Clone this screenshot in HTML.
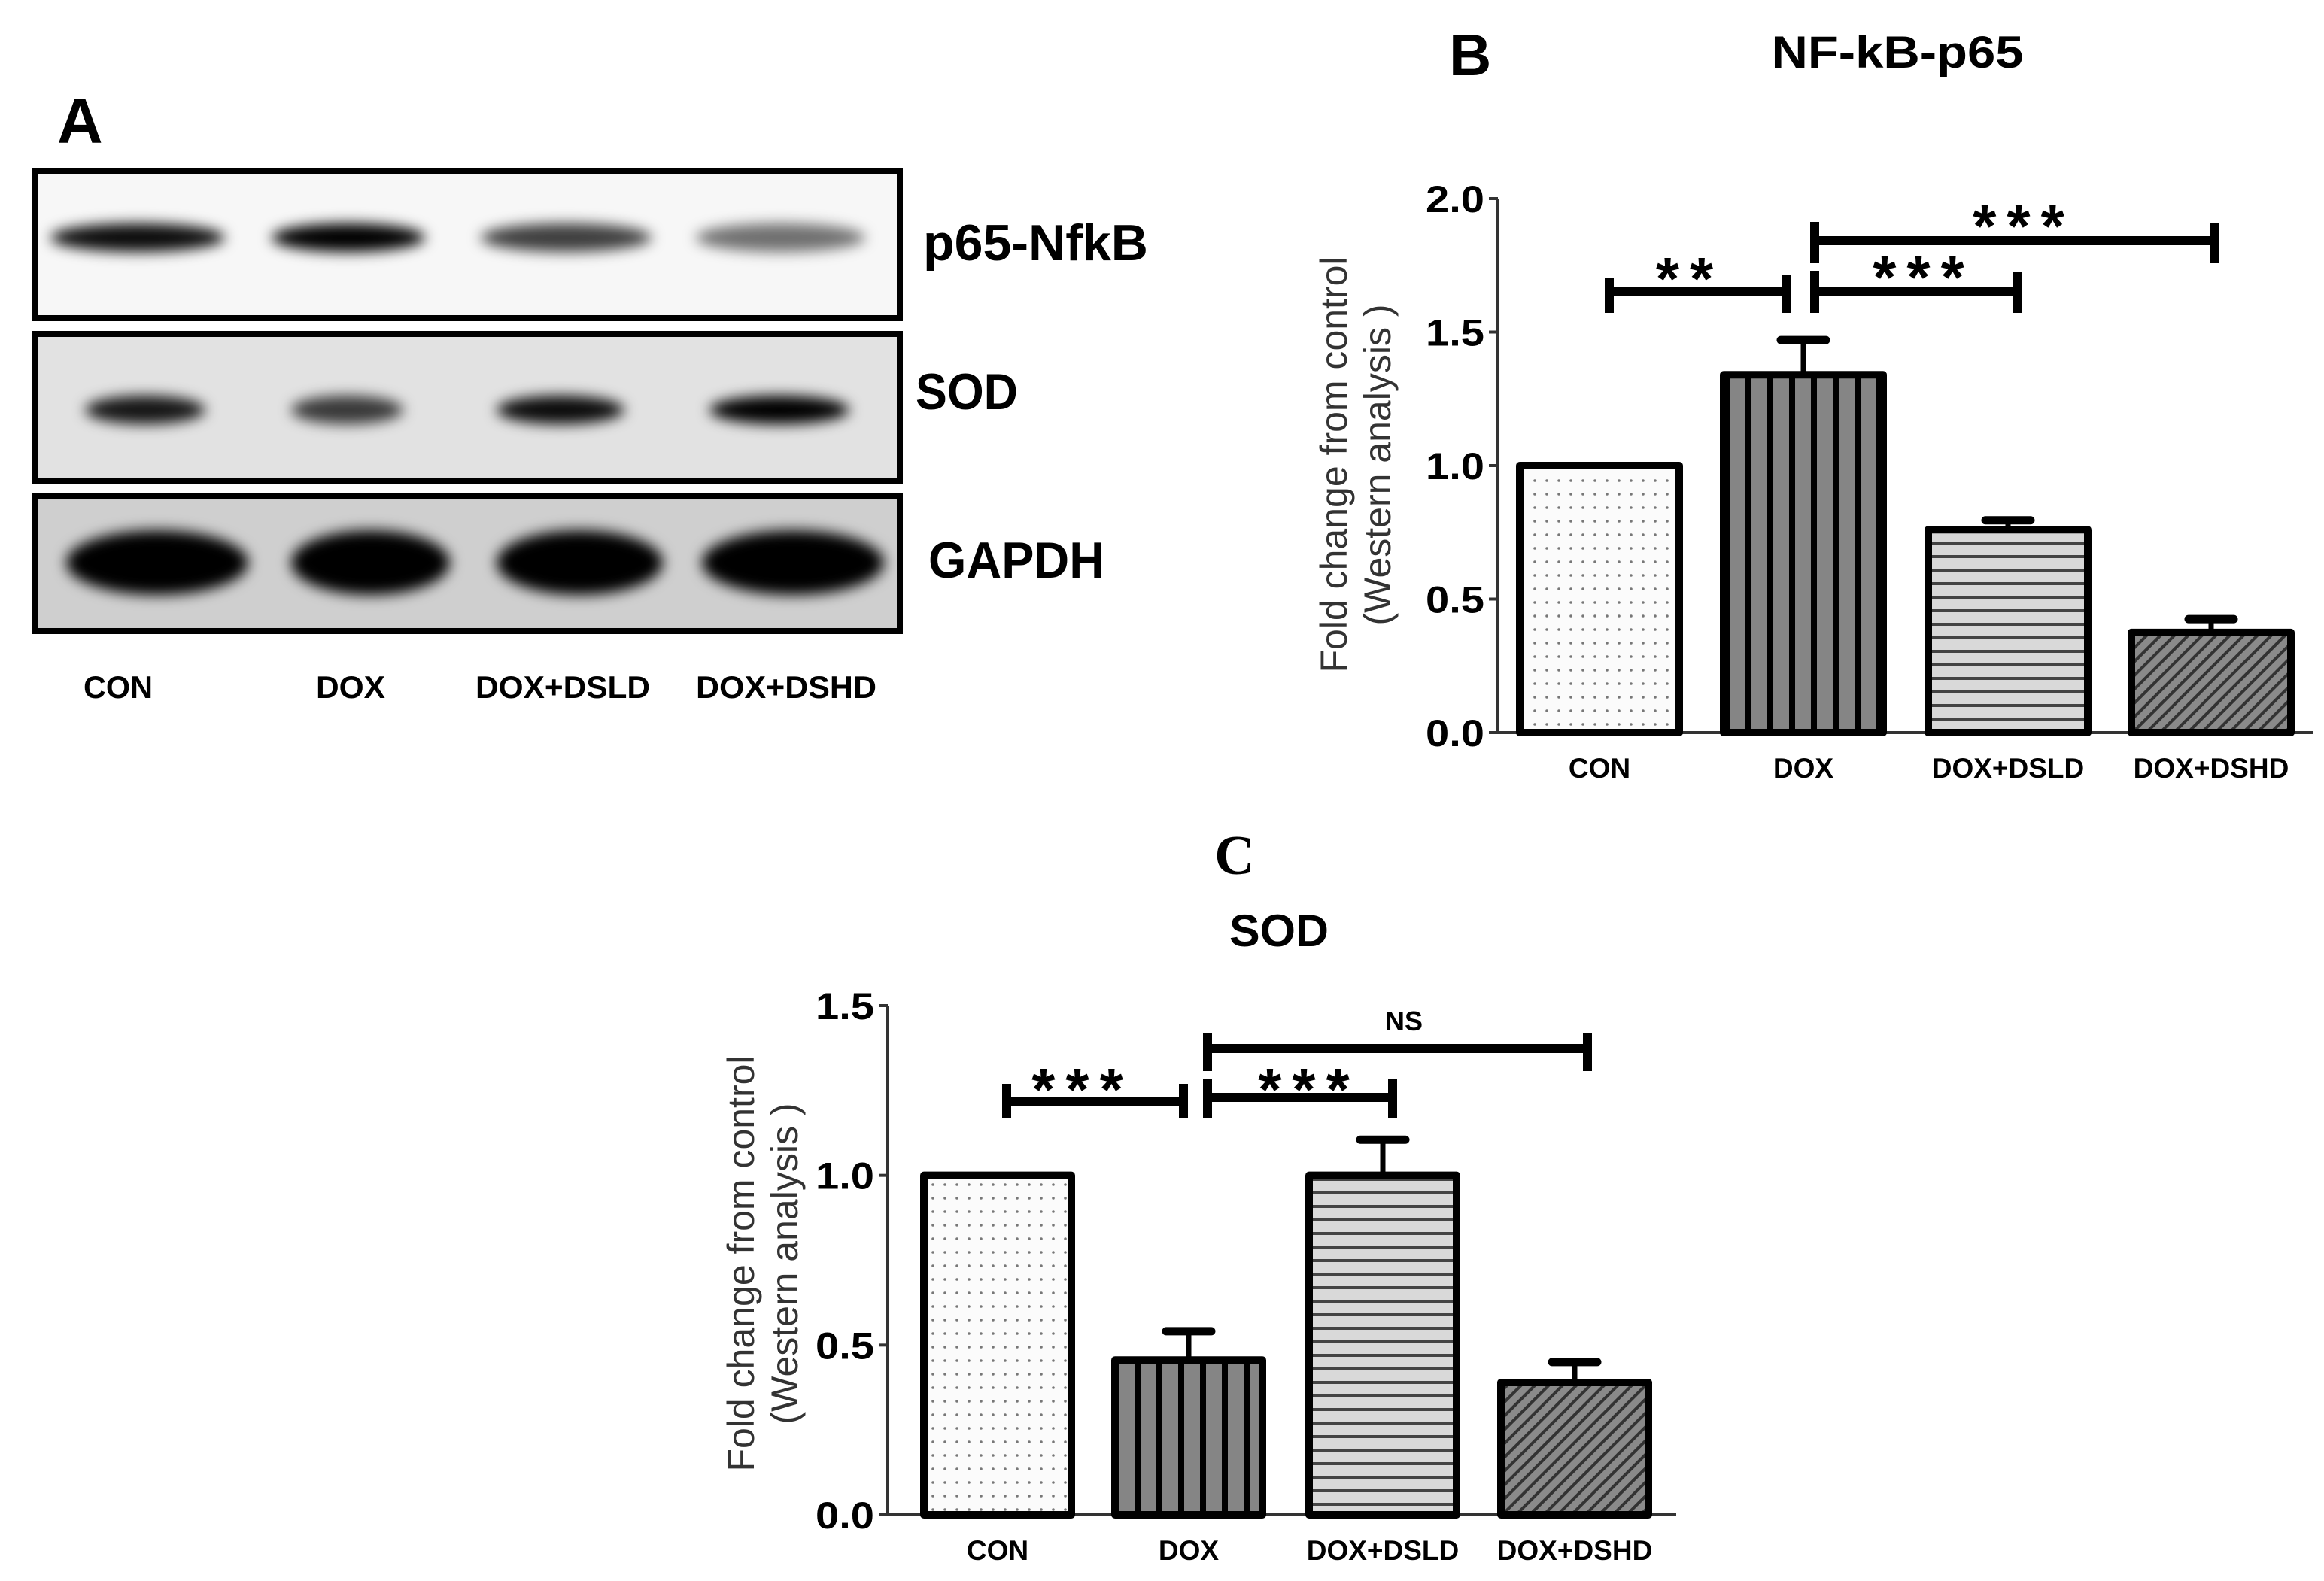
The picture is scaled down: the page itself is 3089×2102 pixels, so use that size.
<!DOCTYPE html>
<html><head><meta charset="utf-8"><style>
html,body{margin:0;padding:0;background:#fff}
svg{display:block}
text{font-family:"Liberation Sans",sans-serif}
</style></head><body>
<svg id="fig" width="3089" height="2102" viewBox="0 0 3089 2102" xmlns="http://www.w3.org/2000/svg">
<defs>
<filter id="blur" x="-30%" y="-80%" width="160%" height="260%"><feGaussianBlur stdDeviation="9"/></filter>
<pattern id="pDots" patternUnits="userSpaceOnUse" width="16" height="18"><rect width="16" height="18" fill="#fbfbfb"/><circle cx="8" cy="9" r="1.8" fill="#777"/></pattern>
<pattern id="pVert" patternUnits="userSpaceOnUse" width="29" height="10"><rect width="29" height="10" fill="#858585"/><rect x="0" width="8" height="10" fill="#000"/></pattern>
<pattern id="pHorz" patternUnits="userSpaceOnUse" width="10" height="18"><rect width="10" height="18" fill="#d9d9d9"/><rect y="0" width="10" height="4" fill="#444"/></pattern>
<pattern id="pDiag" patternUnits="userSpaceOnUse" width="13" height="13" patternTransform="rotate(45)"><rect width="13" height="13" fill="#8a8a8a"/><rect x="0" width="4" height="13" fill="#333"/></pattern>
</defs>

<!-- Panel A -->
<text x="76" y="190" font-size="84" font-weight="bold">A</text>
<g>
  <rect x="46" y="227" width="1150" height="196" fill="#f7f7f7" stroke="#000" stroke-width="8"/>
  <rect x="46" y="444" width="1150" height="196" fill="#e2e2e2" stroke="#000" stroke-width="8"/>
  <rect x="46" y="659" width="1150" height="180" fill="#cfcfcf" stroke="#000" stroke-width="8"/>
  <g id="bands"></g>
</g>
<text x="1227" y="346" font-size="68" font-weight="bold" textLength="299" lengthAdjust="spacingAndGlyphs">p65-NfkB</text>
<text x="1217" y="544" font-size="68" font-weight="bold" textLength="136" lengthAdjust="spacingAndGlyphs">SOD</text>
<text x="1234" y="768" font-size="68" font-weight="bold" textLength="234" lengthAdjust="spacingAndGlyphs">GAPDH</text>
<g id="laneLabels"></g>

<!-- Panel B -->
<text x="1926" y="100" font-size="78" font-weight="bold">B</text>
<text x="2522" y="90" font-size="60" font-weight="bold" text-anchor="middle" textLength="335" lengthAdjust="spacingAndGlyphs">NF-kB-p65</text>
<g id="chartB"></g>

<!-- Panel C -->
<text x="1641" y="1162" font-size="74" font-weight="bold" text-anchor="middle" style="font-family:'Liberation Serif',serif">C</text>
<text x="1700" y="1258" font-size="60" font-weight="bold" text-anchor="middle" textLength="132" lengthAdjust="spacingAndGlyphs">SOD</text>
<g id="chartC"></g>
</svg>
<script>
const NS="http://www.w3.org/2000/svg";
const categories=["CON","DOX","DOX+DSLD","DOX+DSHD"];
const valuesB=[1.0,1.34,0.76,0.375];
const errorsB=[0,0.13,0.035,0.05];
const ticksB=["0.0","0.5","1.0","1.5","2.0"];
const valuesC=[1.0,0.456,1.0,0.39];
const errorsC=[0,0.085,0.105,0.06];
const ticksC=["0.0","0.5","1.0","1.5"];
const fills=["url(#pDots)","url(#pVert)","url(#pHorz)","url(#pDiag)"];

function mk(tag,attrs,parent){const e=document.createElementNS(NS,tag);for(const k in attrs)e.setAttribute(k,attrs[k]);parent.appendChild(e);return e;}

const bandsG=document.getElementById('bands');
const bandRows=[
 {y:316,h:30,lanes:[[67,299,0.95],[361,565,1],[639,866,0.75],[925,1150,0.55]]},
 {y:545,h:30,lanes:[[113,273,0.9],[387,536,0.75],[660,830,0.95],[943,1129,1]]},
 {y:748,h:74,lanes:[[88,330,1],[387,598,1],[660,881,1],[933,1175,1]]}
];
bandRows.forEach((r,ri)=>{r.lanes.forEach((l,li)=>{
  const e=mk('ellipse',{cx:(l[0]+l[1])/2,cy:r.y,rx:(l[1]-l[0])/2,ry:r.h/2+(ri===2?6:4),fill:'#000','fill-opacity':l[2],filter:'url(#blur)'},bandsG);
  
  
});});
const laneX=[157,466,748,1045];
const laneW=[92,92,232,240];
const llG=document.getElementById('laneLabels');
categories.forEach((c,i)=>{
  const t=mk('text',{x:laneX[i],y:928,'font-size':42,'font-weight':'bold','text-anchor':'middle',textLength:laneW[i],lengthAdjust:'spacingAndGlyphs'},llG);
  t.textContent=c;
  
  
});

function chart(gid,cfg){
  const g=document.getElementById(gid);
  const y=v=>cfg.y0-(v/cfg.vmax)*(cfg.y0-cfg.ytop);
  let a=mk('line',{x1:cfg.ax,y1:cfg.ytop,x2:cfg.ax,y2:cfg.y0,stroke:'#333','stroke-width':4},g);
  
  a=mk('line',{x1:cfg.ax,y1:cfg.y0,x2:cfg.xend,y2:cfg.y0,stroke:'#333','stroke-width':4},g);
  
  cfg.ticks.forEach(t=>{
    const v=parseFloat(t);
    const l=mk('line',{x1:cfg.ax-12,y1:y(v),x2:cfg.ax,y2:y(v),stroke:'#333','stroke-width':4},g);
    
    const tx=mk('text',{x:cfg.ax-18,y:y(v)+18,'font-size':50,'font-weight':'bold','text-anchor':'end',textLength:78,lengthAdjust:'spacingAndGlyphs'},g);
    tx.textContent=t;
    
  });
  const yt=mk('text',{transform:`translate(${cfg.ytx},${cfg.ytc}) rotate(-90)`,'font-size':50,'text-anchor':'middle',fill:'#333'},g);
  const s1=mk('tspan',{x:0,y:0},yt);s1.textContent='Fold change from control';
  const s2=mk('tspan',{x:0,y:58},yt);s2.textContent='(Western analysis )';
  
  cfg.values.forEach((v,i)=>{
    const x0=cfg.barX[i];
    const r=mk('rect',{x:x0,y:y(v),width:cfg.bw,height:cfg.y0-y(v),fill:fills[i],stroke:'#000','stroke-width':10,'stroke-linejoin':'round'},g);
    
    
    if(cfg.errors[i]>0){
      const cx=x0+cfg.bw/2, et=y(v+cfg.errors[i]);
      const el=mk('line',{x1:cx,y1:y(v),x2:cx,y2:et,stroke:'#000','stroke-width':7},g);
      
      const ec=mk('line',{x1:cx-30,y1:et,x2:cx+30,y2:et,stroke:'#000','stroke-width':11,'stroke-linecap':'round'},g);
      
    }
    const lb=mk('text',{x:x0+cfg.bw/2,y:cfg.labY,'font-size':37,'font-weight':'bold','text-anchor':'middle'},g);
    lb.textContent=categories[i];
    
  });
  cfg.brackets.forEach(b=>{
    const bg=mk('g',{},g);
    
    mk('line',{x1:b.x1,y1:b.y,x2:b.x2,y2:b.y,stroke:'#000','stroke-width':12},bg);
    mk('line',{x1:b.x1,y1:b.t1,x2:b.x1,y2:b.b1,stroke:'#000','stroke-width':12},bg);
    mk('line',{x1:b.x2,y1:b.t2,x2:b.x2,y2:b.b2,stroke:'#000','stroke-width':12},bg);
    const st=mk('text',{x:b.sx,y:b.sy,'font-size':b.fs,'font-weight':'bold','text-anchor':'middle','letter-spacing':b.ls},bg);
    st.textContent=b.label;
  });
}

chart('chartB',{ax:1991,xend:3075,y0:974,ytop:264,vmax:2.0,ticks:ticksB,values:valuesB,errors:errorsB,
  barX:[2020,2291,2563,2833],bw:212,labY:1034,ytx:1790,ytc:618,
  brackets:[
   {x1:2139,x2:2374,y:387,t1:370,b1:416,t2:366,b2:416,label:'**',sx:2246,sy:398,fs:80,ls:14},
   {x1:2412,x2:2681,y:387,t1:360,b1:416,t2:362,b2:416,label:'***',sx:2557,sy:396,fs:80,ls:14},
   {x1:2412,x2:2944,y:320,t1:295,b1:350,t2:296,b2:350,label:'***',sx:2690,sy:328,fs:80,ls:14}
  ]});
chart('chartC',{ax:1180,xend:2228,y0:2014,ytop:1337,vmax:1.5,ticks:ticksC,values:valuesC,errors:errorsC,
  barX:[1228,1482,1740,1995],bw:196,labY:2074,ytx:1002,ytc:1680,
  brackets:[
   {x1:1338,x2:1573,y:1464,t1:1441,b1:1487,t2:1441,b2:1487,label:'***',sx:1439,sy:1476,fs:80,ls:14},
   {x1:1605,x2:1851,y:1459,t1:1434,b1:1487,t2:1434,b2:1487,label:'***',sx:1740,sy:1476,fs:80,ls:14},
   {x1:1605,x2:2110,y:1394,t1:1373,b1:1424,t2:1373,b2:1424,label:'NS',sx:1866,sy:1370,fs:36,ls:0}
  ]});
</script>
</body></html>
